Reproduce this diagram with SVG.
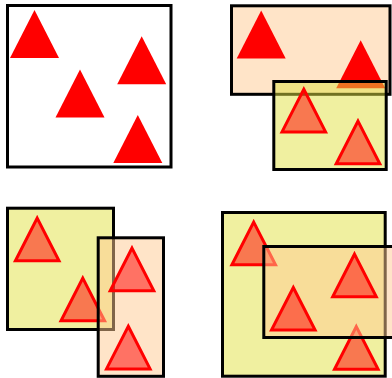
<svg xmlns="http://www.w3.org/2000/svg" xmlns:xlink="http://www.w3.org/1999/xlink" width="392" height="378" viewBox="0 0 392 378">
  <style>
    .box { stroke: #000; stroke-width: 3; }
    .yellow { fill: rgb(225,225,65); fill-opacity: 0.5; }
    .peach { fill: rgb(255,201,145); fill-opacity: 0.5; }
    .white { fill: #fff; }
    .solid { fill: #f00; }
    .outl { fill: #f00; fill-opacity: 0.5; stroke: #f00; stroke-width: 3; stroke-linejoin: miter; }
  </style>
  <defs>
    <!-- filled triangle, apex at the origin -->
    <path id="tri" d="M0,0 L24.5,48 L-24.5,48 Z"/>
    <!-- outlined triangle, outer apex at the origin -->
    <path id="otri" d="M0,3.3 L21.8,45.9 L-21.8,45.9 Z"/>
  </defs>

  <rect width="392" height="378" fill="#fff"/>

  <!-- top left: one box, four triangles -->
  <g id="panel-a">
    <rect class="box white" x="7.5" y="5.5" width="163.5" height="161.5"/>
    <use xlink:href="#tri" class="solid" x="34.5" y="10"/>
    <use xlink:href="#tri" class="solid" x="141.7" y="36.3"/>
    <use xlink:href="#tri" class="solid" x="80" y="69.5"/>
    <use xlink:href="#tri" class="solid" x="137.8" y="115"/>
  </g>

  <!-- top right: peach box under a yellow box -->
  <g id="panel-b">
    <rect class="box peach" x="231.5" y="5.8" width="158.5" height="88.5"/>
    <use xlink:href="#tri" class="solid" x="261.2" y="10.5"/>
    <use xlink:href="#tri" class="solid" x="360.7" y="40.3"/>
    <rect class="box yellow" x="273.8" y="81.5" width="112.4" height="88"/>
    <use xlink:href="#otri" class="outl" x="303.8" y="86"/>
    <use xlink:href="#otri" class="outl" x="358" y="117.8"/>
  </g>

  <!-- bottom left: yellow box under a tall peach box -->
  <g id="panel-c">
    <rect class="box yellow" x="7.5" y="208.2" width="106" height="121.3"/>
    <use xlink:href="#otri" class="outl" x="37.2" y="214.8"/>
    <use xlink:href="#otri" class="outl" x="82.8" y="274.8"/>
    <rect class="box peach" x="98.2" y="237.8" width="65.3" height="138.5"/>
    <use xlink:href="#otri" class="outl" x="132" y="244.8"/>
    <use xlink:href="#otri" class="outl" x="128.3" y="323"/>
  </g>

  <!-- bottom right: large yellow box with a peach box across it -->
  <g id="panel-d">
    <rect class="box yellow" x="222.5" y="212.5" width="162.7" height="163.7"/>
    <use xlink:href="#otri" class="outl" x="253.7" y="218.8"/>
    <use xlink:href="#otri" class="outl" x="356.3" y="323.3"/>
    <rect class="box peach" x="263.8" y="246.5" width="135" height="91"/>
    <use xlink:href="#otri" class="outl" x="354.5" y="250.8"/>
    <use xlink:href="#otri" class="outl" x="293.3" y="284.2"/>
  </g>
</svg>
